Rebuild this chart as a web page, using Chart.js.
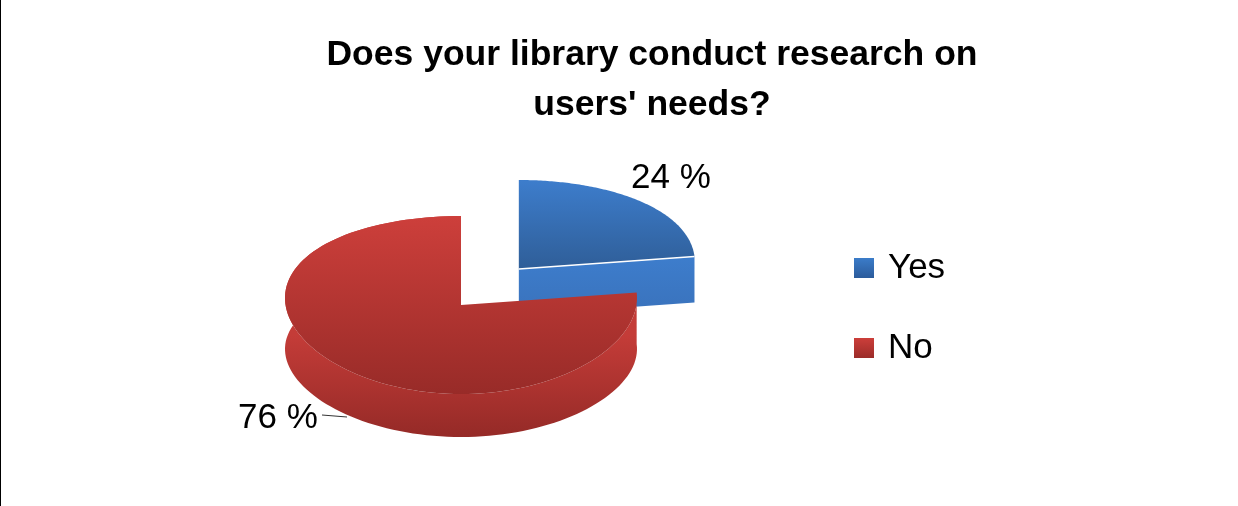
<!DOCTYPE html>
<html>
<head>
<meta charset="utf-8">
<title>Does your library conduct research on users' needs?</title>
<script src="https://cdn.jsdelivr.net/npm/chart.js@4/dist/chart.umd.min.js"></script>
<style>
  html, body { margin: 0; padding: 0; background: #fff; }
  canvas { display: block; }
</style>
</head>
<body>
<canvas id="pieChart" width="1238" height="506"></canvas>
<script>
const categories = ['Yes', 'No'];
const percentages = [24, 76];
const chartTitle = ['Does your library conduct research on', "users' needs?"];

const FONT = "'Liberation Sans', Arial, sans-serif";

// tilted pie: where the whole pie sits, and how the arcs get squashed
const view = { cx: 461, cy: 305, rx: 176, ry: 89, egg: 7, depth: 51, wallRy: 81, explodeX: 0.48, explodeY: 0.555 };
const labelSpots = [{ x: 671, y: 188 }, { x: 278, y: 428 }];

const canvas = document.getElementById('pieChart');
const ctx2d = canvas.getContext('2d');

function vGrad(y0, c0, y1, c1) {
  const g = ctx2d.createLinearGradient(0, y0, 0, y1);
  g.addColorStop(0, c0);
  g.addColorStop(1, c1);
  return g;
}

const blueTop = vGrad(180, '#3d7dcc', 269, '#2f5e98');
const blueFace = vGrad(257, '#3d7dcc', 310, '#3a73bd');
const redTop = vGrad(216, '#cd3f3b', 394, '#982b28');
const redWall = vGrad(335, '#c43c38', 437, '#952a27');
const legendFills = [vGrad(258, '#3b7cc9', 278, '#2b5b9b'), vGrad(338, '#cc3e3a', 358, '#9b2c29')];

// angle clockwise from 12 o'clock -> screen point on the top rim
function rim(a, o) {
  const s = Math.sin(a);
  return { x: o.x + view.rx * s, y: o.y - view.ry * Math.cos(a) - view.egg * s * s };
}

// same, on the lower rim of the extruded wall
function lowRim(a, o) {
  const s = Math.sin(a);
  return { x: o.x + view.rx * s, y: o.y + view.depth - view.wallRy * Math.cos(a) - view.egg * s * s };
}

function sweep(ctx, fn, a0, a1, o) {
  const n = 120;
  for (let i = 0; i <= n; i++) {
    const p = fn(a0 + (a1 - a0) * i / n, o);
    ctx.lineTo(p.x, p.y);
  }
}

const tiltedPie = {
  id: 'tiltedPie',
  afterLayout(chart) {
    // legend sits next to the pie, not against the canvas edge
    const lg = chart.legend;
    const w = lg.right - lg.left;
    const h = lg.bottom - lg.top;
    lg.left = 812.5;
    lg.right = 812.5 + w;
    lg.top = 308 - h / 2;
    lg.bottom = 308 + h / 2;
  },
  beforeDraw(chart) {
    const ctx = chart.ctx;
    ctx.save();
    ctx.fillStyle = '#000';
    ctx.fillRect(0, 0, 1, chart.height);
    ctx.restore();
  },
  beforeDatasetsDraw(chart) {
    const ctx = chart.ctx;
    const arcs = chart.getDatasetMeta(0).data;
    const angles = arcs.map(el => {
      const p = el.getProps(['startAngle', 'endAngle']);
      return { a0: p.startAngle + Math.PI / 2, a1: p.endAngle + Math.PI / 2 };
    });
    const yes = angles[0];
    const no = angles[1];
    const mid = (yes.a0 + yes.a1) / 2;
    const oNo = { x: view.cx, y: view.cy };
    const oYes = {
      x: view.cx + view.explodeX * view.rx * Math.sin(mid),
      y: view.cy - view.explodeY * view.ry * Math.cos(mid)
    };

    ctx.save();

    // blue cut face
    const tip = rim(yes.a1, oYes);
    const tipLow = { x: tip.x, y: tip.y + 46 };
    const dy = oYes.y - tip.y;
    ctx.beginPath();
    ctx.moveTo(oYes.x, oYes.y);
    ctx.lineTo(tip.x, tip.y);
    ctx.lineTo(tipLow.x, tipLow.y);
    ctx.lineTo(oYes.x, tipLow.y + dy);
    ctx.closePath();
    ctx.fillStyle = blueFace;
    ctx.fill();

    // blue top
    ctx.beginPath();
    ctx.moveTo(oYes.x, oYes.y);
    sweep(ctx, rim, yes.a0, yes.a1, oYes);
    ctx.closePath();
    ctx.fillStyle = blueTop;
    ctx.fill();
    ctx.beginPath();
    ctx.moveTo(oYes.x, oYes.y);
    ctx.lineTo(tip.x, tip.y);
    ctx.strokeStyle = '#fff';
    ctx.lineWidth = 1.5;
    ctx.stroke();

    // red wall
    ctx.beginPath();
    sweep(ctx, rim, no.a0, no.a1, oNo);
    sweep(ctx, lowRim, no.a1, no.a0, oNo);
    ctx.closePath();
    ctx.fillStyle = redWall;
    ctx.fill();

    // red top
    ctx.beginPath();
    ctx.moveTo(oNo.x, oNo.y);
    sweep(ctx, rim, no.a0, no.a1, oNo);
    ctx.closePath();
    ctx.fillStyle = redTop;
    ctx.fill();

    // value labels + leader line on the 76 %
    ctx.fillStyle = '#000';
    ctx.font = '35px ' + FONT;
    ctx.textAlign = 'center';
    ctx.textBaseline = 'alphabetic';
    percentages.forEach((v, i) => {
      ctx.fillText(v + ' %', labelSpots[i].x, labelSpots[i].y);
    });
    ctx.beginPath();
    ctx.moveTo(322, 415);
    ctx.lineTo(347, 417);
    ctx.strokeStyle = '#333';
    ctx.lineWidth = 1;
    ctx.stroke();

    ctx.restore();
    return false; // arcs are painted above, skip the flat pie
  }
};

new Chart(canvas, {
  type: 'pie',
  data: {
    labels: categories,
    datasets: [{
      data: percentages,
      backgroundColor: ['#3b7cc9', '#cc3e3a'],
      borderWidth: 0
    }]
  },
  options: {
    responsive: false,
    animation: false,
    layout: { padding: { left: 66 } },
    plugins: {
      tooltip: { enabled: false },
      title: {
        display: true,
        text: chartTitle,
        color: '#000',
        font: { family: FONT, size: 35.5, weight: 'bold', lineHeight: 1.41 },
        padding: { top: 30, bottom: 20 }
      },
      legend: {
        position: 'right',
        labels: {
          color: '#000',
          boxWidth: 13,
          boxHeight: 13,
          padding: 45,
          font: { family: FONT, size: 35 },
          generateLabels(chart) {
            const items = Chart.overrides.pie.plugins.legend.labels.generateLabels(chart);
            // thick same-colour stroke keeps the 20px swatch but pulls the text closer
            items.forEach((it, i) => {
              it.fillStyle = legendFills[i];
              it.strokeStyle = legendFills[i];
              it.lineWidth = 7;
            });
            return items;
          }
        }
      }
    }
  },
  plugins: [tiltedPie]
});
</script>
</body>
</html>
